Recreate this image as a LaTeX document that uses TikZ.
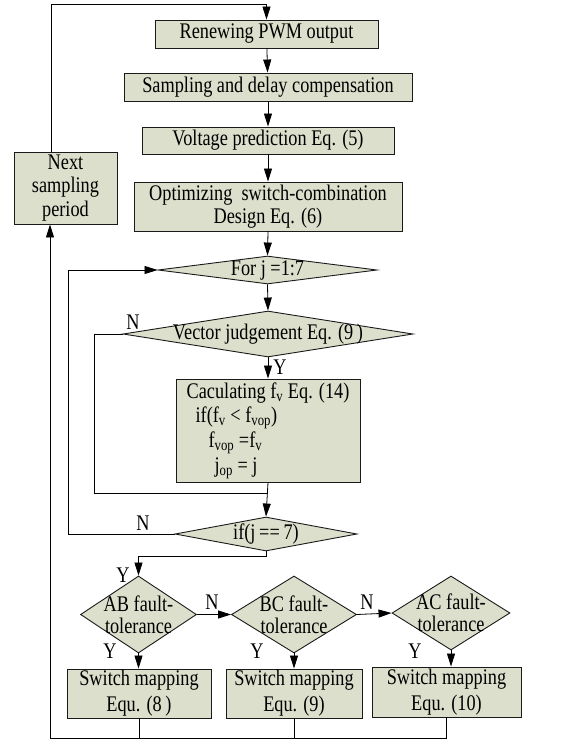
\documentclass[tikz,border=0pt]{standalone}
\usepackage{fontspec}
\setmainfont{Liberation Serif}[FakeStretch=0.82]
\usetikzlibrary{arrows.meta,positioning,calc,shapes.geometric}
\definecolor{boxfill}{HTML}{DCDFCB}
\definecolor{ink}{HTML}{1A1A1A}

\begin{document}
\begin{tikzpicture}[x=1pt,y=-1pt,
  txt/.style={font=\fontsize{22.3}{24}\selectfont,text=black},
  box/.style={txt,draw=ink,line width=0.9pt,fill=boxfill,inner sep=0pt,align=center},
  dia/.style={diamond,draw=ink,line width=0.9pt,fill=boxfill,inner sep=0pt},
  lab/.style={txt,inner sep=0pt},
  arr/.style={line width=0.8pt,-{Triangle[length=13pt,width=8pt]}},
  lin/.style={line width=0.8pt}]
\useasboundingbox (0,0) rectangle (581,741);
\node[box,minimum width=223,minimum height=28] (renew) at (266.5,34) {Renewing PWM output};
\node[box,minimum width=288,minimum height=28] (sampl) at (268,87) {Sampling and delay compensation};
\node[box,minimum width=252,minimum height=27] (volt) at (268,140.5) {Voltage prediction Eq. (5)};
\node[box,minimum width=268,minimum height=49,font=\fontsize{22.3}{23}\selectfont] (optim) at (268,206.5) {Optimizing\ \ switch-combination\\Design Eq. (6)};
\node[box,minimum width=103,minimum height=72,font=\fontsize{22.3}{23.5}\selectfont] (next) at (65.5,188) {Next\\sampling\\period};
\node[dia,minimum width=219,minimum height=28] (forj) at (267.5,270) {};
\node[lab] (forjt) at (forj) {For j =1:7};
\node[dia,minimum width=290,minimum height=46] (vec) at (268,334) {};
\node[lab] (vect) at (vec) {Vector judgement Eq. (9\,)};
\node[box,minimum width=184,minimum height=103,align=left,font=\fontsize{22.3}{24.7}\selectfont] (calc) at (268,430.5) {Caculating f\textsubscript{v} Eq. (14)\\\hspace*{9pt}if(f\textsubscript{v} < f\textsubscript{vop})\\\hspace*{22pt}f\textsubscript{vop} =f\textsubscript{v}\\\hspace*{28pt}j\textsubscript{op} = j};
\node[dia,minimum width=182,minimum height=34] (ifj) at (266,534) {};
\node[lab] (ifjt) at (ifj) {if(j\,==\,7)};
\node[dia,minimum width=116,minimum height=77] (ab) at (138.5,614.5) {};
\node[lab,align=center,font=\fontsize{22.3}{22}\selectfont] (abt) at (ab) {AB fault-\\tolerance};
\node[dia,minimum width=125,minimum height=77] (bc) at (294,614.5) {};
\node[lab,align=center,font=\fontsize{22.3}{22}\selectfont] (bct) at (bc) {BC fault-\\tolerance};
\node[dia,minimum width=118,minimum height=74] (ac) at (451,613) {};
\node[lab,align=center,font=\fontsize{22.3}{22}\selectfont] (act) at (ac) {AC fault-\\tolerance};
\node[box,minimum width=144,minimum height=49,font=\fontsize{22.3}{26}\selectfont] (swab) at (139,693.5) {Switch mapping\\Equ. (8\,)};
\node[box,minimum width=136,minimum height=49,font=\fontsize{22.3}{26}\selectfont] (swbc) at (294,693.5) {Switch mapping\\Equ. (9)};
\node[box,minimum width=149,minimum height=50,font=\fontsize{22.3}{26}\selectfont] (swac) at (446.5,692) {Switch mapping\\Equ. (10)};
\coordinate (toploop) at (51,4);
\coordinate (vjoin) at (94,493);
\coordinate (floop) at (68,534);
\coordinate (ybend) at (0,556);
\coordinate (botl) at (50,738);
\draw[arr] (next.north -| toploop) -- (toploop) -| (renew.north);
\draw[arr] (renew) -- (sampl);
\draw[arr] (sampl) -- (volt);
\draw[arr] (volt) -- (optim);
\draw[arr] (optim.south) -- (forj.north);
\draw[arr] (forj.south) -- (vec.north);
\draw[arr] (vec.south) -- (calc.north);
\draw[lin] (vec.west) -| (vjoin) -- (vjoin -| calc.south);
\draw[arr] (calc.south) -- (ifj.north);
\draw[arr] (ifj.west) -- (floop) |- (forj.west);
\draw[arr] (ifj.south) -- (ifj.south |- ybend) -| (ab.north);
\draw[arr] (ab.east) -- (bc.west);
\draw[arr] (bc.east) -- (ac.west);
\draw[arr] (ab.south) -- (swab.north -| ab.south);
\draw[arr] (bc.south) -- (swbc.north -| bc.south);
\draw[arr] (ac.south) -- (swac.north -| ac.south);
\draw[lin] (swab.south) -- (swab.south |- botl);
\draw[lin] (swbc.south) -- (swbc.south |- botl);
\draw[arr] (swac.south) |- (botl) -- (next.south -| botl);
\node[lab] (nvec) at (133,322) {N};
\node[lab] (yvec) at (280,367) {Y};
\node[lab] (nifj) at (143,523) {N};
\node[lab] (yifj) at (123,575) {Y};
\node[lab] (nab) at (212,602) {N};
\node[lab] (nbc) at (367,602) {N};
\node[lab] (yab) at (110,651) {Y};
\node[lab] (ybc) at (257,651) {Y};
\node[lab] (yac) at (415,651) {Y};
\end{tikzpicture}
\end{document}
